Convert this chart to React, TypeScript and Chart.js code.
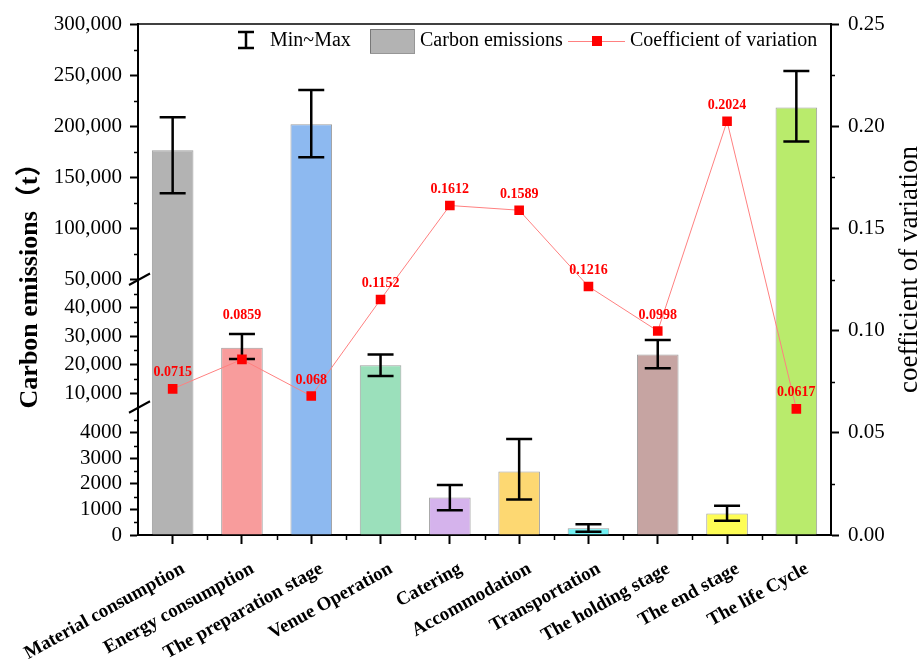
import { useEffect, useRef } from 'react';
import { Chart, registerables, LinearScale } from 'chart.js';

const categories = [
  'Material consumption',
  'Energy consumption',
  'The preparation stage',
  'Venue Operation',
  'Catering',
  'Accommodation',
  'Transportation',
  'The holding stage',
  'The end stage',
  'The life Cycle',
];
const emissions = [176500, 26000, 202000, 19800, 1470, 2490, 260, 23600, 845, 218300];
const emissionsMax = [208800, 30800, 235300, 23600, 1960, 3760, 420, 28700, 1140, 253900];
const emissionsMin = [134300, 22000, 169600, 16000, 970, 1390, 130, 18700, 556, 185000];
const cvValues = [0.0715, 0.0859, 0.068, 0.1152, 0.1612, 0.1589, 0.1216, 0.0998, 0.2024, 0.0617];
const cvLabels = ['0.0715', '0.0859', '0.068', '0.1152', '0.1612', '0.1589', '0.1216', '0.0998', '0.2024', '0.0617'];
const barColors = ['#b3b3b3', '#f89c9c', '#8db9f0', '#9be0bb', '#d5b3ec', '#fdd872', '#70f0f3', '#c6a4a2', '#fefd55', '#b9eb6c'];

const leftTickValues = [0, 1000, 2000, 3000, 4000, 10000, 20000, 30000, 40000, 50000, 100000, 150000, 200000, 250000, 300000];
const leftTickLabels = ['0', '1000', '2000', '3000', '4000', '10,000', '20,000', '30,000', '40,000', '50,000', '100,000', '150,000', '200,000', '250,000', '300,000'];
const leftMinorTicks = [500, 1500, 2500, 3500, 4500, 15000, 25000, 35000, 45000, 75000, 125000, 175000, 225000, 275000];
const rightTickValues = [0, 0.05, 0.1, 0.15, 0.2, 0.25];
const rightTickLabels = ['0.00', '0.05', '0.10', '0.15', '0.20', '0.25'];
const rightMinorTicks = [0.025, 0.075, 0.125, 0.175, 0.225];

// axis break definition: value breakpoints and the share of the axis each segment takes
const breakValues = [0, 5000, 50000, 300000];
const breakFractions = [0, 0.25, 0.5, 1];

function toFrac(v: number): number {
  const n = breakValues.length - 1;
  for (let i = 0; i < n; i++) {
    const a = breakValues[i];
    const b = breakValues[i + 1];
    if (v <= b || i === n - 1) {
      return breakFractions[i] + ((breakFractions[i + 1] - breakFractions[i]) * (v - a)) / (b - a);
    }
  }
  return 0;
}
function fromFrac(f: number): number {
  const n = breakFractions.length - 1;
  for (let i = 0; i < n; i++) {
    const a = breakFractions[i];
    const b = breakFractions[i + 1];
    if (f <= b || i === n - 1) {
      return breakValues[i] + ((breakValues[i + 1] - breakValues[i]) * (f - a)) / (b - a);
    }
  }
  return 0;
}

class BrokenScale extends LinearScale {
  static id = 'broken';
  static defaults = {};
  buildTicks() {
    return leftTickValues.map((value) => ({ value }));
  }
  getPixelForValue(value: number) {
    return this.getPixelForDecimal(toFrac(value));
  }
  getValueForPixel(pixel: number) {
    return fromFrac(this.getDecimalForPixel(pixel));
  }
}

Chart.register(...registerables, BrokenScale);

const SERIF = '"Liberation Serif", "Times New Roman", "Noto Sans CJK SC", serif';

const customPlugin = {
  id: 'customDecor',
  afterDatasetDraw(chart: any, args: any) {
    if (args.index !== 0) return;
    const ctx = chart.ctx;
    const y = chart.scales.y;
    const meta = chart.getDatasetMeta(0);
    ctx.save();
    ctx.strokeStyle = '#000';
    ctx.lineWidth = 2.5;
    meta.data.forEach((bar: any, i: number) => {
      const x = bar.x;
      const yMax = y.getPixelForValue(emissionsMax[i]);
      const yMin = y.getPixelForValue(emissionsMin[i]);
      ctx.beginPath();
      ctx.moveTo(x, yMax);
      ctx.lineTo(x, yMin);
      ctx.moveTo(x - 13, yMax);
      ctx.lineTo(x + 13, yMax);
      ctx.moveTo(x - 13, yMin);
      ctx.lineTo(x + 13, yMin);
      ctx.stroke();
    });
    ctx.restore();
  },
  afterDatasetsDraw(chart: any) {
    const ctx = chart.ctx;
    const y = chart.scales.y;
    const meta = chart.getDatasetMeta(1);
    ctx.save();
    ctx.fillStyle = '#ff0000';
    ctx.font = 'bold 14px ' + SERIF;
    ctx.textAlign = 'center';
    ctx.textBaseline = 'middle';
    meta.data.forEach((pt: any, i: number) => {
      const yMaxPx = y.getPixelForValue(emissionsMax[i]);
      const yMinPx = y.getPixelForValue(emissionsMin[i]);
      let ly = pt.y - 16;
      if (pt.y >= yMaxPx && pt.y <= yMinPx + 6) ly = yMaxPx - 19;
      ctx.fillText(cvLabels[i], pt.x, ly);
    });
    ctx.restore();
  },
  afterDraw(chart: any) {
    const ctx = chart.ctx;
    const area = chart.chartArea;
    const x = chart.scales.x;
    const y = chart.scales.y;
    const y1 = chart.scales.y1;
    ctx.save();
    ctx.strokeStyle = '#000';
    ctx.fillStyle = '#000';

    // top frame line
    ctx.lineWidth = 1.5;
    ctx.beginPath();
    ctx.moveTo(area.left, area.top);
    ctx.lineTo(area.right, area.top);
    ctx.stroke();

    // minor ticks
    ctx.lineWidth = 1.5;
    ctx.beginPath();
    leftMinorTicks.forEach((v) => {
      const py = Math.round(y.getPixelForValue(v)) + 0.5;
      ctx.moveTo(area.left - 4, py);
      ctx.lineTo(area.left, py);
    });
    rightMinorTicks.forEach((v) => {
      const py = Math.round(y1.getPixelForValue(v)) + 0.5;
      ctx.moveTo(area.right, py);
      ctx.lineTo(area.right + 4, py);
    });
    const half = (x.getPixelForValue(1) - x.getPixelForValue(0)) / 2;
    for (let i = 1; i < categories.length; i++) {
      const px = Math.round(x.getPixelForValue(i) - half) + 0.5;
      ctx.moveTo(px, area.bottom);
      ctx.lineTo(px, area.bottom + 5);
    }
    ctx.stroke();

    // axis break marks
    ctx.lineWidth = 2;
    ctx.beginPath();
    [breakValues[1], breakValues[2]].forEach((v) => {
      const py = y.getPixelForValue(v);
      ctx.moveTo(area.left - 9, py + 5.5);
      ctx.lineTo(area.left + 12, py - 6);
    });
    ctx.stroke();

    // x category labels
    ctx.font = 'bold 19px ' + SERIF;
    ctx.textAlign = 'right';
    ctx.textBaseline = 'alphabetic';
    categories.forEach((c, i) => {
      const px = x.getPixelForValue(i);
      ctx.save();
      ctx.translate(px + 13, area.bottom + 37);
      ctx.rotate((-29 * Math.PI) / 180);
      ctx.fillText(c, 0, 0);
      ctx.restore();
    });

    // axis titles
    ctx.save();
    ctx.font = 'bold 26px ' + SERIF;
    ctx.textAlign = 'center';
    ctx.textBaseline = 'alphabetic';
    ctx.translate(37, (area.top + area.bottom) / 2);
    ctx.rotate(-Math.PI / 2);
    ctx.fillText('Carbon emissions（t）', 0, 0);
    ctx.restore();

    ctx.save();
    ctx.font = '27px ' + SERIF;
    ctx.textAlign = 'center';
    ctx.textBaseline = 'alphabetic';
    ctx.translate(917, (area.top + area.bottom) / 2 - 10);
    ctx.rotate(-Math.PI / 2);
    ctx.fillText('coefficient of variation', 0, 0);
    ctx.restore();

    // legend
    const ly = 41;
    ctx.strokeStyle = '#000';
    ctx.lineWidth = 2.5;
    ctx.beginPath();
    ctx.moveTo(246, ly - 9);
    ctx.lineTo(246, ly + 7);
    ctx.moveTo(238, ly - 9);
    ctx.lineTo(254, ly - 9);
    ctx.moveTo(238, ly + 7);
    ctx.lineTo(254, ly + 7);
    ctx.stroke();
    ctx.font = '20px ' + SERIF;
    ctx.textAlign = 'left';
    ctx.textBaseline = 'middle';
    ctx.fillText('Min~Max', 270, ly);
    ctx.fillStyle = barColors[0];
    ctx.fillRect(370, ly - 12, 44, 24);
    ctx.strokeStyle = 'rgba(80,80,80,0.6)';
    ctx.lineWidth = 1;
    ctx.strokeRect(370.5, ly - 11.5, 44, 24);
    ctx.fillStyle = '#000';
    ctx.fillText('Carbon emissions', 420, ly);
    ctx.strokeStyle = '#ff8080';
    ctx.lineWidth = 1;
    ctx.beginPath();
    ctx.moveTo(568, ly + 0.5);
    ctx.lineTo(625, ly + 0.5);
    ctx.stroke();
    ctx.fillStyle = '#ff0000';
    ctx.fillRect(592, ly - 5, 10, 10);
    ctx.fillStyle = '#000';
    ctx.fillText('Coefficient of variation', 630, ly);

    ctx.restore();
  },
};

export default function App() {
  const canvasRef = useRef<HTMLCanvasElement | null>(null);

  useEffect(() => {
    if (!canvasRef.current) return;
    const tickFont = { family: SERIF, size: 21 };
    const chart = new Chart(canvasRef.current, {
      type: 'bar',
      data: {
        labels: categories,
        datasets: [
          {
            type: 'bar',
            label: 'Carbon emissions',
            data: emissions,
            backgroundColor: barColors,
            borderColor: 'rgba(80,80,80,0.55)',
            borderWidth: 1,
            barPercentage: 0.6,
            categoryPercentage: 1,
            yAxisID: 'y',
            order: 2,
          } as any,
          {
            type: 'line',
            label: 'Coefficient of variation',
            data: cvValues,
            borderColor: '#ff8080',
            borderWidth: 1,
            pointStyle: 'rect',
            pointRadius: 6.8,
            pointBackgroundColor: '#ff0000',
            pointBorderColor: '#ff0000',
            pointBorderWidth: 0,
            yAxisID: 'y1',
            order: 1,
            tension: 0,
          } as any,
        ],
      },
      options: {
        responsive: false,
        devicePixelRatio: 1,
        animation: false,
        layout: { padding: { top: 24, left: 0, right: 0, bottom: 0 } },
        plugins: { legend: { display: false }, tooltip: { enabled: false } },
        scales: {
          x: {
            type: 'category',
            offset: true,
            ticks: { display: false },
            grid: {
              display: true,
              drawOnChartArea: false,
              offset: false,
              tickLength: 9,
              tickWidth: 2,
              tickColor: '#000',
            },
            border: { display: true, color: '#000', width: 2 },
            afterFit: (s: any) => {
              s.height = 126;
            },
          },
          y: {
            type: 'broken' as any,
            position: 'left',
            min: 0,
            max: 300000,
            ticks: {
              autoSkip: false,
              padding: 8,
              color: '#000',
              font: tickFont,
              callback: (_v: any, i: number) => leftTickLabels[i],
            },
            grid: {
              display: true,
              drawOnChartArea: false,
              tickLength: 8,
              tickWidth: 2,
              tickColor: '#000',
            },
            border: { display: true, color: '#000', width: 2 },
            afterFit: (s: any) => {
              s.width = 138;
            },
          },
          y1: {
            type: 'linear',
            position: 'right',
            min: 0,
            max: 0.25,
            afterBuildTicks: (s: any) => {
              s.ticks = rightTickValues.map((value) => ({ value }));
            },
            ticks: {
              autoSkip: false,
              padding: 9,
              color: '#000',
              font: tickFont,
              callback: (_v: any, i: number) => rightTickLabels[i],
            },
            grid: {
              display: true,
              drawOnChartArea: false,
              tickLength: 8,
              tickWidth: 2,
              tickColor: '#000',
            },
            border: { display: true, color: '#000', width: 2 },
            afterFit: (s: any) => {
              s.width = 90;
            },
          },
        },
      } as any,
      plugins: [customPlugin],
    });
    return () => chart.destroy();
  }, []);

  return (
    <div style={{ position: 'fixed', left: 0, top: 0, width: 921, height: 661, background: '#fff' }}>
      <canvas ref={canvasRef} width={921} height={661} style={{ width: 921, height: 661, display: 'block' }} />
    </div>
  );
}
